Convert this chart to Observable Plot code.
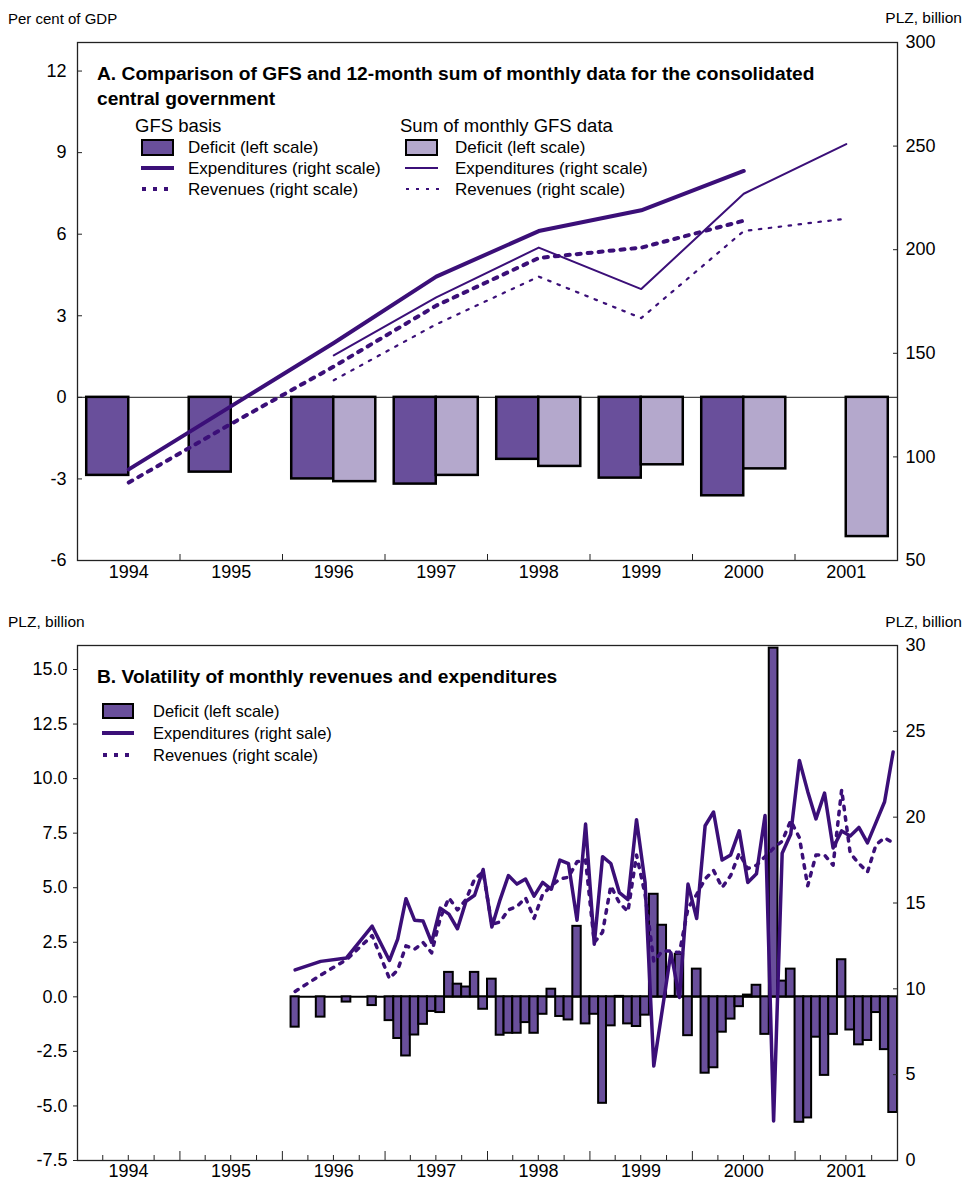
<!DOCTYPE html>
<html><head><meta charset="utf-8">
<script src="https://cdn.jsdelivr.net/npm/d3@7"></script>
<script src="https://cdn.jsdelivr.net/npm/@observablehq/plot@0.6"></script>
<style>
body{margin:0;background:#fff;font-family:"Liberation Sans",Arial,sans-serif;}
#wrap{position:relative;width:964px;height:1188px;overflow:hidden;}
.abs{position:absolute;white-space:nowrap;color:#000;line-height:1;}
.plot{position:absolute;left:0;}
</style></head><body><div id="wrap"></div>
<script>
// ---------- Panel A data (annual) ----------
const years = [1994, 1995, 1996, 1997, 1998, 1999, 2000, 2001];
const gfsDeficit = [-2.87, -2.75, -3.0, -3.19, -2.28, -2.97, -3.62, null];      // per cent of GDP
const sumDeficit = [null, null, -3.1, -2.87, -2.54, -2.48, -2.63, -5.12];        // per cent of GDP
const gfsExpenditures = [94, 124.5, 155, 187, 209, 219, 238, null];              // PLZ billion
const gfsRevenues = [87.6, 116, 143.6, 173, 196, 201, 214, null];                // PLZ billion
const sumExpenditures = [null, null, 149, 177, 201, 181, 227, 251];              // PLZ billion
const sumRevenues = [null, null, 137, 164, 187, 167, 209, 215];                  // PLZ billion
const leftTicksA = [-6, -3, 0, 3, 6, 9, 12];
const rightTicksA = [50, 100, 150, 200, 250, 300];

// ---------- Panel B data (monthly) ----------
const months = ["1996-02","1996-05","1996-08","1996-11",
 "1997-01","1997-02","1997-03","1997-04","1997-05","1997-06","1997-07","1997-08","1997-09","1997-10","1997-11","1997-12",
 "1998-01","1998-02","1998-03","1998-04","1998-05","1998-06","1998-07","1998-08","1998-09","1998-10","1998-11","1998-12",
 "1999-01","1999-02","1999-03","1999-04","1999-05","1999-06","1999-07","1999-08","1999-09","1999-10","1999-11","1999-12",
 "2000-01","2000-02","2000-03","2000-04","2000-05","2000-06","2000-07","2000-08","2000-09","2000-10","2000-11","2000-12",
 "2001-01","2001-02","2001-03","2001-04","2001-05","2001-06","2001-07","2001-08","2001-09","2001-10","2001-11","2001-12"];
const monthlyDeficit = [-1.39,-0.93,-0.24,-0.40,
 -1.09,-1.91,-2.71,-1.75,-1.26,-0.67,-0.72,1.12,0.58,0.45,1.12,-0.57,
 0.81,-1.76,-1.67,-1.67,-1.18,-1.67,-0.80,0.35,-0.90,-1.06,3.23,-1.24,
 -0.80,-4.88,-1.33,0.02,-1.24,-1.36,-0.84,4.70,3.28,0.02,1.95,-1.78,
 1.27,-3.50,-3.25,-1.62,-1.02,-0.45,0.08,0.53,-1.72,15.98,0.72,1.27,
 -5.75,-5.55,-1.85,-3.60,-1.72,1.70,-1.52,-2.20,-2.00,-0.72,-2.42,-5.30];
const monthlyExpenditures = [11.1,11.6,11.8,13.65,
 11.65,12.9,15.25,14.0,13.95,12.7,14.7,14.35,13.5,15.1,15.45,16.95,
 13.6,15.2,16.6,16.1,16.4,15.4,16.2,15.8,17.5,17.3,14.0,19.6,
 12.6,17.7,17.3,15.6,15.2,19.85,16.2,5.5,8.8,12.1,9.5,16.1,
 14.1,19.5,20.3,17.5,17.8,19.2,16.2,16.7,20.1,2.3,17.9,19.0,
 23.3,21.5,19.9,21.4,18.2,19.2,18.9,19.4,18.5,19.7,20.9,23.8];
const monthlyRevenues = [9.85,10.8,11.7,13.1,
 10.6,11.1,12.5,12.3,12.7,12.1,14.1,15.3,14.6,15.2,16.4,16.8,
 13.75,13.9,14.6,14.8,15.3,14.1,15.5,16.0,16.4,16.5,17.4,17.5,
 12.7,13.3,16.0,15.0,14.5,17.8,15.5,11.6,12.2,12.2,12.1,14.7,
 15.5,16.4,16.9,15.9,16.6,17.9,17.0,17.2,17.7,18.2,18.6,19.8,
 18.8,16.0,17.8,17.8,17.2,21.6,17.9,17.3,16.8,18.4,18.8,18.5];
const leftTicksB = [-7.5, -5, -2.5, 0, 2.5, 5, 7.5, 10, 12.5, 15];
const rightTicksB = [0, 5, 10, 15, 20, 25, 30];
const yearLabelsB = [1994, 1995, 1996, 1997, 1998, 1999, 2000, 2001];

// ---------- styling ----------
const DARK = "#694f9b", LIGHT = "#b4a8cc", LINE = "#3b0f78", AXIS = "#222";
const FONT = "'Liberation Sans', Arial, sans-serif";
const W = 964, ML = 77, MR = 67;
const lin = (a0, a1, b0, b1) => v => b0 + (v - a0) * (b1 - b0) / (a1 - a0);
const hy = s => String(s).replace("\u2212", "-");

const wrap = document.getElementById("wrap");
function txt(s, x, yc, fs, opts = {}) {
  const d = document.createElement("div");
  d.className = "abs";
  d.textContent = s;
  d.style.fontSize = fs + "px";
  d.style.top = (yc - 0.49 * fs) + "px";
  if (opts.right != null) d.style.right = opts.right + "px"; else d.style.left = x + "px";
  if (opts.bold) d.style.fontWeight = "bold";
  wrap.appendChild(d);
}
function box(x, y, w, h, css) {
  const d = document.createElement("div");
  d.className = "abs";
  Object.assign(d.style, {left: x + "px", top: y + "px", width: w + "px", height: h + "px", boxSizing: "border-box"}, css);
  wrap.appendChild(d);
}
const dots = (on, off) => `repeating-linear-gradient(90deg, ${LINE} 0 ${on}px, transparent ${on}px ${on + off}px)`;

// ---------- Panel A ----------
const leftA = [-6, 13.05], rightA = [50, 300];
const rToLA = lin(rightA[0], rightA[1], leftA[0], leftA[1]);
const lToRA = lin(leftA[0], leftA[1], rightA[0], rightA[1]);
const rowsA = years.map((year, i) => ({year, gfsDef: gfsDeficit[i], sumDef: sumDeficit[i],
  gfsExp: gfsExpenditures[i], gfsRev: gfsRevenues[i], sumExp: sumExpenditures[i], sumRev: sumRevenues[i]}));
const has = k => rowsA.filter(d => d[k] != null);
const BW = 0.41;

const plotA = Plot.plot({
  width: W, height: 595, marginLeft: ML, marginRight: MR, marginTop: 42, marginBottom: 35,
  style: {fontSize: "18px", fontFamily: FONT, color: "#000", background: "transparent", overflow: "visible"},
  x: {type: "linear", domain: [1993.5, 2001.5]},
  y: {domain: leftA},
  marks: [
    Plot.ruleY([0], {stroke: "#444", strokeWidth: 1.2}),
    Plot.rect(has("gfsDef"), {x1: d => d.year - BW, x2: d => d.year, y1: 0, y2: "gfsDef", fill: DARK, stroke: "#000", strokeWidth: 2.5}),
    Plot.rect(has("sumDef"), {x1: d => d.year, x2: d => d.year + BW, y1: 0, y2: "sumDef", fill: LIGHT, stroke: "#000", strokeWidth: 2.5}),
    Plot.line(has("gfsExp"), {x: "year", y: d => rToLA(d.gfsExp), stroke: LINE, strokeWidth: 4}),
    Plot.line(has("gfsRev"), {x: "year", y: d => rToLA(d.gfsRev), stroke: LINE, strokeWidth: 4, strokeDasharray: "4,7"}),
    Plot.line(has("sumExp"), {x: "year", y: d => rToLA(d.sumExp), stroke: LINE, strokeWidth: 2}),
    Plot.line(has("sumRev"), {x: "year", y: d => rToLA(d.sumRev), stroke: LINE, strokeWidth: 2.2, strokeDasharray: "2.5,7.5"}),
    Plot.frame({stroke: AXIS, strokeWidth: 1.3}),
    Plot.axisY({anchor: "left", ticks: leftTicksA, tickSize: -5, fill: "none", stroke: AXIS, label: null}),
    Plot.axisY({anchor: "left", ticks: leftTicksA, tickSize: 0, tickPadding: 11, tickFormat: d => hy(d), label: null}),
    Plot.axisY({anchor: "right", ticks: rightTicksA.map(rToLA), tickSize: -5, fill: "none", stroke: AXIS, label: null}),
    Plot.axisY({anchor: "right", ticks: rightTicksA.map(rToLA), tickSize: 0, tickPadding: 8, tickFormat: d => String(Math.round(lToRA(d))), label: null}),
    Plot.axisX({ticks: years.slice(0, -1).map(y => y + 0.5), tickSize: -6, fill: "none", stroke: AXIS, label: null}),
    Plot.axisX({ticks: years, tickSize: 0, tickPadding: 5, tickFormat: d => String(d), label: null})
  ]
});
plotA.classList.add("plot"); plotA.style.top = "0px";
wrap.appendChild(plotA);

// ---------- Panel B ----------
const leftB = [-7.5, 16.1], rightB = [0, 30];
const rToLB = lin(rightB[0], rightB[1], leftB[0], leftB[1]);
const lToRB = lin(leftB[0], leftB[1], rightB[0], rightB[1]);
const parseM = d3.utcParse("%Y-%m");
const rowsB = months.map((m, i) => {
  const s = parseM(m), e = d3.utcMonth.offset(s, 1);
  return {start: s, end: e, mid: new Date((+s + +e) / 2), def: monthlyDeficit[i], exp: monthlyExpenditures[i], rev: monthlyRevenues[i]};
});
const xDomB = [new Date(Date.UTC(yearLabelsB[0], 0, 1)), new Date(Date.UTC(yearLabelsB[yearLabelsB.length - 1] + 1, 0, 1))];
const quarterTicks = d3.utcMonth.every(3).range(xDomB[0], xDomB[1]).filter(d => d.getUTCMonth() !== 0);
const yearTicks = d3.utcYear.range(d3.utcYear.offset(xDomB[0], 1), xDomB[1]);
const yearMids = yearLabelsB.map(y => new Date(Date.UTC(y, 6, 2)));

const plotB = Plot.plot({
  width: W, height: 593, marginLeft: ML, marginRight: MR, marginTop: 50, marginBottom: 28,
  style: {fontSize: "18px", fontFamily: FONT, color: "#000", background: "transparent", overflow: "visible"},
  x: {type: "utc", domain: xDomB},
  y: {domain: leftB},
  marks: [
    Plot.ruleY([0], {x1: d3.min(rowsB, d => d.start), x2: d3.max(rowsB, d => d.end), stroke: "#000", strokeWidth: 2}),
    Plot.rect(rowsB, {x1: "start", x2: "end", y1: 0, y2: "def", fill: DARK, stroke: "#000", strokeWidth: 2}),
    Plot.line(rowsB, {x: "mid", y: d => rToLB(d.exp), stroke: LINE, strokeWidth: 3.5}),
    Plot.line(rowsB, {x: "mid", y: d => rToLB(d.rev), stroke: LINE, strokeWidth: 3.5, strokeDasharray: "3.5,7"}),
    Plot.frame({stroke: AXIS, strokeWidth: 1.3}),
    Plot.axisY({anchor: "left", ticks: leftTicksB, tickSize: 4, fill: "none", stroke: AXIS, label: null}),
    Plot.axisY({anchor: "left", ticks: leftTicksB, tickSize: 0, tickPadding: 10, tickFormat: d => hy(d.toFixed(1)), label: null}),
    Plot.axisY({anchor: "right", ticks: rightTicksB.map(rToLB), tickSize: -5, fill: "none", stroke: AXIS, label: null}),
    Plot.axisY({anchor: "right", ticks: rightTicksB.map(rToLB), tickSize: 0, tickPadding: 8, tickFormat: d => String(Math.round(lToRB(d))), label: null}),
    Plot.axisX({ticks: quarterTicks, tickSize: -5, fill: "none", stroke: AXIS, label: null}),
    Plot.axisX({ticks: yearTicks, tickSize: -9, fill: "none", stroke: AXIS, label: null}),
    Plot.axisX({ticks: yearMids, tickSize: 0, tickPadding: 4, tickFormat: d => String(d.getUTCFullYear()), label: null})
  ]
});
plotB.classList.add("plot"); plotB.style.top = "595px";
wrap.appendChild(plotB);

// ---------- Text & legends (HTML overlays) ----------
txt("Per cent of GDP", 8, 18, 15);
txt("PLZ, billion", 0, 18, 15.5, {right: 2});
txt("A. Comparison of GFS and 12-month sum of monthly data for the consolidated", 97, 73, 19.2, {bold: true});
txt("central government", 97, 98, 19.2, {bold: true});
txt("GFS basis", 135, 126, 18.5);
txt("Sum of monthly GFS data", 400, 126, 18.5);
const legA = [[141, 188, DARK], [405, 455, LIGHT]];
legA.forEach(([sx, tx, fill], j) => {
  box(sx, 139, 33, 17, {background: fill, border: "2.5px solid #000"});
  txt("Deficit (left scale)", tx, 147.5, 17);
  box(sx, j === 0 ? 166 : 167, 33, j === 0 ? 4 : 2, {background: LINE});
  txt("Expenditures (right scale)", tx, 168, 17);
  box(sx + 1, j === 0 ? 187 : 188, 33, j === 0 ? 4 : 2.2, {background: j === 0 ? dots(4, 7) : dots(3, 7)});
  txt("Revenues (right scale)", tx, 189, 17);
});

txt("PLZ, billion", 8, 622, 15.5);
txt("PLZ, billion", 0, 622, 15.5, {right: 2});
txt("B. Volatility of monthly revenues and expenditures", 97, 676, 19.2, {bold: true});
box(102, 703, 32, 16, {background: DARK, border: "2.5px solid #000"});
txt("Deficit (left scale)", 153, 711, 16.5);
box(102, 731, 32, 4, {background: LINE});
txt("Expenditures (right sale)", 153, 733, 16.5);
box(103, 753, 32, 4, {background: dots(4, 7)});
txt("Revenues (right scale)", 153, 755, 16.5);
</script></body></html>
